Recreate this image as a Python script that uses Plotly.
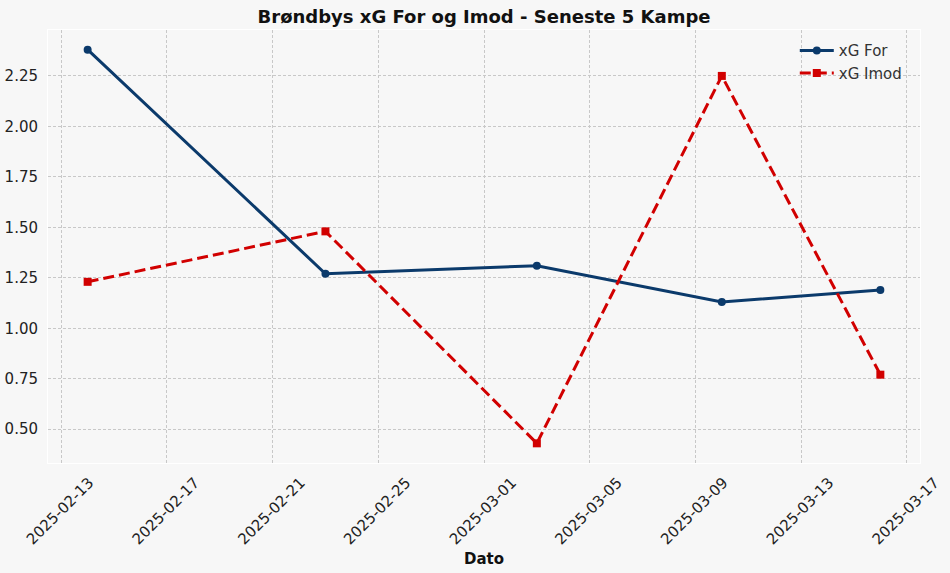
import plotly.graph_objects as go

dates = ["2025-02-14", "2025-02-23", "2025-03-03", "2025-03-10", "2025-03-16"]
xg_for = [2.38, 1.27, 1.31, 1.13, 1.19]
xg_imod = [1.23, 1.48, 0.43, 2.25, 0.77]
x_ticks = ["2025-02-13", "2025-02-17", "2025-02-21", "2025-02-25", "2025-03-01",
           "2025-03-05", "2025-03-09", "2025-03-13", "2025-03-17"]
y_ticks = [0.50, 0.75, 1.00, 1.25, 1.50, 1.75, 2.00, 2.25]

BLUE = "#0b3a6b"
RED = "#d10000"
FONT = "DejaVu Sans"

fig = go.Figure()
fig.add_trace(go.Scatter(x=dates, y=xg_for, name="xG For", mode="lines+markers",
                         line=dict(color=BLUE, width=3),
                         marker=dict(symbol="circle", size=8, color=BLUE)))
fig.add_trace(go.Scatter(x=dates, y=xg_imod, name="xG Imod", mode="lines+markers",
                         line=dict(color=RED, width=3, dash="11px,5px"),
                         marker=dict(symbol="square", size=8, color=RED)))

fig.update_layout(
    width=950, height=573,
    margin=dict(l=48, r=30, t=30, b=110),
    paper_bgcolor="#f7f7f7",
    plot_bgcolor="#f7f7f7",
    font=dict(family=FONT, size=15, color="#222222"),
    title=dict(text="<b>Brøndbys xG For og Imod - Seneste 5 Kampe</b>",
               x=0.5095, xanchor="center", y=0.97, yanchor="middle",
               font=dict(family=FONT, size=18, color="#111111")),
    showlegend=True,
    legend=dict(x=0.986, y=0.99, xanchor="right", yanchor="top",
                bgcolor="rgba(0,0,0,0)", font=dict(size=15, color="#333333"),
                itemwidth=34, tracegroupgap=0),
)
fig.update_xaxes(
    type="date",
    automargin=False,
    range=["2025-02-12 12:00", "2025-03-17 12:00"],
    tickvals=x_ticks, ticktext=x_ticks,
    tickangle=-45,
    ticklabelshift=28,
    ticklabelstandoff=4,
    showgrid=True, gridcolor="#c8c8c8", gridwidth=0.8, griddash="3px,2px",
    zeroline=False, showline=True, linecolor="#ffffff", linewidth=1, mirror=True,
    ticks="",
    title=dict(text="<b>Dato</b>", font=dict(size=15, color="#111111"), standoff=6),
)
fig.update_yaxes(
    automargin=False,
    range=[0.3325, 2.4775],
    tickvals=y_ticks, tickformat=".2f",
    ticklabelstandoff=6,
    showgrid=True, gridcolor="#c8c8c8", gridwidth=0.8, griddash="3px,2px",
    zeroline=False, showline=True, linecolor="#ffffff", linewidth=1, mirror=True,
    ticks="",
)

fig.write_html("out.html")
